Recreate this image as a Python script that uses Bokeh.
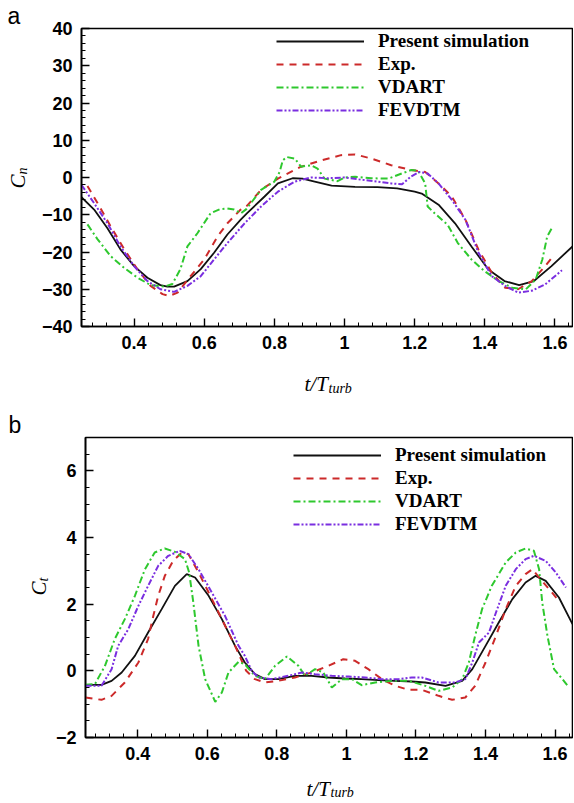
from bokeh.plotting import figure
from bokeh.models import (Legend, LegendItem, Label, FixedTicker, CustomJSTickFormatter, Range1d, Title)
from bokeh.layouts import column, row
from bokeh.embed import file_html
from bokeh.resources import INLINE
import math

# ---------------- data: panel (a) normal force coefficient Cn ----------------
cn_sim_x = [0.25, 0.286, 0.324, 0.361, 0.40, 0.438, 0.475, 0.495, 0.514, 0.552, 0.59, 0.628, 0.666, 0.704, 0.723,
            0.772, 0.81, 0.852, 0.88, 0.915, 0.963, 1.03, 1.094, 1.15, 1.2, 1.22, 1.268, 1.315, 1.362, 1.41, 1.456,
            1.498, 1.54, 1.59, 1.65]
cn_sim_y = [-5.3, -8.6, -13.6, -19.3, -23.8, -26.9, -28.9, -29.3, -29.3, -27.8, -24.6, -20.2, -15.3, -11.3, -9.5,
            -5.1, -1.6, -0.2, -0.3, -1.1, -2.2, -2.5, -2.6, -2.9, -3.8, -4.3, -7.3, -12.3, -18.5, -24.7, -27.8,
            -28.9, -27.8, -23.8, -18.5]

cn_exp_x = [0.267, 0.296, 0.333, 0.372, 0.41, 0.447, 0.481, 0.50, 0.524, 0.561, 0.60, 0.638, 0.666, 0.704, 0.723,
            0.762, 0.81, 0.876, 0.934, 0.99, 1.03, 1.076, 1.133, 1.19, 1.23, 1.268, 1.306, 1.345, 1.382, 1.42,
            1.458, 1.495, 1.534, 1.572, 1.595]
cn_exp_y = [-2.3, -6.9, -13.1, -19.3, -24.7, -29.1, -31.3, -31.8, -30.9, -26.5, -22.0, -15.8, -12.3, -8.6, -7.5,
            -3.3, -0.3, 2.9, 4.6, 6.0, 6.2, 5.1, 3.3, 2.0, 1.5, -1.6, -5.1, -11.4, -19.4, -25.6,
            -29.6, -30.0, -27.8, -23.8, -21.1]

cn_vdart_x = [0.267, 0.296, 0.333, 0.372, 0.41, 0.447, 0.486, 0.509, 0.532, 0.552, 0.581, 0.618, 0.645, 0.666,
              0.685, 0.705, 0.72, 0.762, 0.80, 0.815, 0.824, 0.835, 0.858, 0.876, 0.905, 0.923, 0.943, 0.98, 1.0,
              1.03, 1.076, 1.125, 1.164, 1.19, 1.21, 1.23, 1.237, 1.257, 1.294, 1.323, 1.362, 1.40, 1.44, 1.478,
              1.517, 1.545, 1.564, 1.578, 1.593]
cn_vdart_y = [-12.6, -16.6, -21.1, -24.3, -26.9, -28.9, -29.3, -28.6, -24.6, -18.5, -14.9, -9.6, -8.5, -8.3,
              -8.6, -9.6, -8.5, -3.3, -1.1, 1.5, 4.6, 5.5, 5.1, 2.9, 3.3, 2.4, -0.3, -1.0, 0.0,
              0.2, -0.2, -0.3, 1.1, 2.0, 1.8, -1.6, -7.8, -9.6, -12.7, -17.6, -22.0, -25.2, -27.8, -29.6,
              -30.0, -27.4, -22.0, -15.8, -13.3]

cn_fev_x = [0.25, 0.286, 0.324, 0.361, 0.40, 0.438, 0.475, 0.514, 0.552, 0.59, 0.628, 0.666, 0.715, 0.762, 0.81,
            0.858, 0.905, 0.951, 1.0, 1.048, 1.094, 1.133, 1.164, 1.19, 1.213, 1.237, 1.268, 1.306, 1.345, 1.382,
            1.42, 1.458, 1.495, 1.534, 1.572, 1.62]
cn_fev_y = [-2.0, -6.9, -12.3, -18.5, -23.8, -27.8, -30.0, -30.7, -29.1, -26.5, -22.0, -17.6, -12.3, -7.8, -3.8,
            -1.1, 0.0, -0.2, 0.0, -0.6, -1.1, -1.6, -1.8, 0.3, 1.5, 1.1, -1.6, -6.0, -11.4, -20.2,
            -26.5, -29.1, -30.9, -30.4, -28.7, -24.9]

# ---------------- data: panel (b) tangential force coefficient Ct ----------------
ct_sim_x = [0.25, 0.296, 0.325, 0.354, 0.392, 0.43, 0.469, 0.507, 0.541, 0.565, 0.604, 0.642, 0.68, 0.708, 0.737,
            0.766, 0.804, 0.852, 0.90, 0.948, 0.996, 1.044, 1.092, 1.14, 1.188, 1.227, 1.285, 1.333, 1.362, 1.40,
            1.438, 1.477, 1.515, 1.544, 1.573, 1.611, 1.65]
ct_sim_y = [-0.42, -0.42, -0.3, -0.05, 0.45, 1.15, 1.85, 2.55, 2.9, 2.8, 2.25, 1.55, 0.75, 0.25, -0.1,
            -0.25, -0.25, -0.15, -0.15, -0.2, -0.23, -0.25, -0.28, -0.3, -0.32, -0.35, -0.45, -0.3, 0.05, 0.75,
            1.45, 2.15, 2.65, 2.85, 2.7, 2.2, 1.4]

ct_exp_x = [0.25, 0.296, 0.325, 0.363, 0.402, 0.43, 0.445, 0.459, 0.478, 0.502, 0.527, 0.546, 0.575, 0.604, 0.642,
            0.68, 0.712, 0.737, 0.766, 0.804, 0.852, 0.90, 0.948, 0.991, 1.025, 1.063, 1.102, 1.14, 1.179, 1.217,
            1.265, 1.304, 1.342, 1.37, 1.40, 1.43, 1.458, 1.487, 1.515, 1.535, 1.554, 1.583, 1.611]
ct_exp_y = [-0.8, -0.87, -0.75, -0.35, 0.25, 0.96, 1.65, 2.25, 2.85, 3.3, 3.55, 3.5, 2.95, 2.35, 1.55,
            0.75, 0.0, -0.25, -0.35, -0.3, -0.2, -0.05, 0.15, 0.35, 0.3, 0.05, -0.25, -0.45, -0.57, -0.57,
            -0.75, -0.87, -0.8, -0.45, 0.25, 1.05, 1.85, 2.55, 2.9, 3.05, 2.8, 2.45, 2.1]

ct_vdart_x = [0.25, 0.277, 0.306, 0.334, 0.363, 0.392, 0.421, 0.449, 0.478, 0.507, 0.536, 0.548, 0.56, 0.575,
              0.594, 0.623, 0.642, 0.661, 0.69, 0.708, 0.737, 0.766, 0.795, 0.829, 0.862, 0.881, 0.91, 0.934,
              0.958, 0.987, 1.016, 1.044, 1.083, 1.131, 1.179, 1.227, 1.265, 1.304, 1.333, 1.352, 1.37, 1.39,
              1.418, 1.458, 1.487, 1.515, 1.539, 1.554, 1.563, 1.578, 1.597, 1.621, 1.636]
ct_vdart_y = [-0.42, -0.4, 0.15, 0.95, 1.55, 2.25, 3.05, 3.55, 3.67, 3.57, 3.35, 2.95, 2.05, 0.75,
              -0.25, -0.93, -0.65, -0.05, 0.27, 0.2, -0.15, -0.25, 0.15, 0.43, 0.15, -0.15, 0.05, -0.05,
              -0.5, -0.25, -0.25, -0.43, -0.35, -0.3, -0.3, -0.45, -0.6, -0.5, -0.25, 0.25, 1.05, 1.85,
              2.55, 3.25, 3.55, 3.67, 3.6, 3.05, 2.05, 1.05, 0.05, -0.25, -0.45]

ct_fev_x = [0.25, 0.296, 0.325, 0.344, 0.373, 0.402, 0.43, 0.459, 0.488, 0.521, 0.546, 0.575, 0.613, 0.651, 0.69,
            0.708, 0.728, 0.747, 0.785, 0.833, 0.872, 0.91, 0.958, 1.006, 1.054, 1.102, 1.15, 1.188, 1.217,
            1.265, 1.313, 1.342, 1.362, 1.381, 1.41, 1.43, 1.458, 1.487, 1.515, 1.539, 1.573, 1.602, 1.631]
ct_fev_y = [-0.45, -0.45, 0.05, 0.75, 1.25, 1.95, 2.55, 3.15, 3.45, 3.6, 3.5, 3.05, 2.35, 1.65, 0.75,
            0.45, 0.0, -0.2, -0.25, -0.15, -0.05, -0.1, -0.15, -0.17, -0.2, -0.25, -0.25, -0.2, -0.2,
            -0.35, -0.35, -0.25, 0.25, 0.85, 1.15, 1.75, 2.55, 3.05, 3.35, 3.45, 3.3, 2.95, 2.5]

series_names = ["Present simulation", "Exp.", "VDART", "FEVDTM"]
panel_letters = ["a", "b"]
x_ticks = [0.4, 0.6, 0.8, 1.0, 1.2, 1.4, 1.6]
x_minor = [round(0.28 + 0.04 * i, 2) for i in range(35)]
cn_ticks = [-40, -30, -20, -10, 0, 10, 20, 30, 40]
cn_minor = list(range(-40, 41, 2))
ct_ticks = [-2, 0, 2, 4, 6]
ct_minor = [-2 + 0.5 * i for i in range(19)]

colors = ["#111111", "#cc2a2a", "#2ec82e", "#7a2ee0"]
dashes = ["solid", "7 6", "7 3 2 3", "6 2 2 2 2 2"]
widths = [1.8, 2.0, 2.0, 2.0]

SERIF = "Liberation Serif"
SANS = "Liberation Sans"
TOTAL_W = 573


def blank(width, height, letter=None, letter_offset=0):
    f = figure(width=width, height=height, output_backend="svg", toolbar_location=None,
               x_axis_type=None, y_axis_type=None, min_border=0,
               x_range=Range1d(0, 1), y_range=Range1d(0, 1))
    if letter is not None:
        f.title = Title(text=letter, align="left", offset=letter_offset, standoff=0,
                        text_font=SANS, text_font_style="normal", text_font_size="23px",
                        text_color="black", vertical_align="bottom")
    f.outline_line_color = None
    f.grid.visible = False
    f.background_fill_color = "white"
    f.border_fill_color = "white"
    return f


def text(f, x, y, s, size, style="normal", font=SERIF, angle=0.0, align="left", baseline="alphabetic"):
    f.add_layout(Label(x=x, y=y, x_units="screen", y_units="screen", text=s, angle=angle,
                       text_font=font, text_font_style=style, text_font_size=size,
                       text_color="black", text_align=align, text_baseline=baseline))


def make_main(width, height, border_left, border_top, border_bottom, yr, yticks, yminor, data, legend_loc):
    p = figure(width=width, height=height, output_backend="svg", toolbar_location=None,
               x_range=Range1d(0.25, 1.65), y_range=Range1d(*yr),
               min_border_left=border_left, min_border_right=1,
               min_border_top=border_top, min_border_bottom=border_bottom)
    p.grid.visible = False
    p.outline_line_color = "black"
    p.outline_line_width = 1.6
    p.background_fill_color = "white"
    p.border_fill_color = "white"
    for ax, ticks, minor in ((p.xaxis[0], x_ticks, x_minor), (p.yaxis[0], yticks, yminor)):
        ax.ticker = FixedTicker(ticks=ticks, minor_ticks=minor)
        ax.axis_line_color = "black"
        ax.axis_line_width = 1.6
        ax.major_tick_in = 8
        ax.major_tick_out = 0
        ax.minor_tick_in = 4
        ax.minor_tick_out = 0
        ax.major_tick_line_width = 1.4
        ax.minor_tick_line_width = 1.0
        ax.major_label_text_font = SANS
        ax.major_label_text_font_style = "bold"
        ax.major_label_text_font_size = "18px"
        ax.major_label_text_color = "black"
        ax.major_label_standoff = 9
    p.xaxis[0].formatter = CustomJSTickFormatter(
        code="return Number.isInteger(tick) ? tick.toString() : tick.toFixed(1);")

    items = []
    for i, (xs, ys) in enumerate(data):
        r = p.line(xs, ys, line_color=colors[i], line_width=widths[i], line_dash=dashes[i])
        items.append(LegendItem(label=series_names[i], renderers=[r]))
    leg = Legend(items=items, location=legend_loc, glyph_width=88, glyph_height=22, spacing=1,
                 padding=0, margin=0, label_standoff=14, label_text_font=SERIF,
                 label_text_font_style="bold", label_text_font_size="19px",
                 label_text_color="black", border_line_color=None, background_fill_alpha=0)
    p.add_layout(leg)
    return p


# ---------- panel a ----------
LEFT_A = 36
H_A = 365            # top border ~27, frame ~299, bottom border 39
main_a = make_main(TOTAL_W - LEFT_A, H_A, 81 - LEFT_A, 27, 39, (-40, 40), cn_ticks, cn_minor,
                   [(cn_sim_x, cn_sim_y), (cn_exp_x, cn_exp_y), (cn_vdart_x, cn_vdart_y), (cn_fev_x, cn_fev_y)],
                   (195, 205))
left_a = blank(LEFT_A, H_A, panel_letters[0], 7)   # its frame is aligned with main_a's frame
text(left_a, 17, 145, "C", "21px", style="italic", angle=math.pi / 2, align="center", baseline="middle")
text(left_a, 22, 152, "n", "14px", style="italic", angle=math.pi / 2, align="left", baseline="middle")

xl_a = blank(TOTAL_W, 43)
text(xl_a, 304, 25, "t/T", "21px", style="italic")
text(xl_a, 328, 20, "turb", "14px", style="italic")

# ---------- panel b ----------
LEFT_B = 50
H_B = 359            # top border ~29, frame 300, bottom border 30
main_b = make_main(TOTAL_W - LEFT_B, H_B, 85 - LEFT_B, 29, 30, (-2, 7), ct_ticks, ct_minor,
                   [(ct_sim_x, ct_sim_y), (ct_exp_x, ct_exp_y), (ct_vdart_x, ct_vdart_y), (ct_fev_x, ct_fev_y)],
                   (208, 202))
left_b = blank(LEFT_B, H_B, panel_letters[1], 8)
text(left_b, 38, 149, "C", "21px", style="italic", angle=math.pi / 2, align="center", baseline="middle")
text(left_b, 43, 156, "t", "14px", style="italic", angle=math.pi / 2, align="left", baseline="middle")

xl_b = blank(TOTAL_W, 33)
text(xl_b, 306, 12, "t/T", "21px", style="italic")
text(xl_b, 330, 8, "turb", "14px", style="italic")

layout = column(row(left_a, main_a), xl_a, row(left_b, main_b), xl_b, spacing=0)
open("out.html", "w").write(file_html(layout, INLINE))
